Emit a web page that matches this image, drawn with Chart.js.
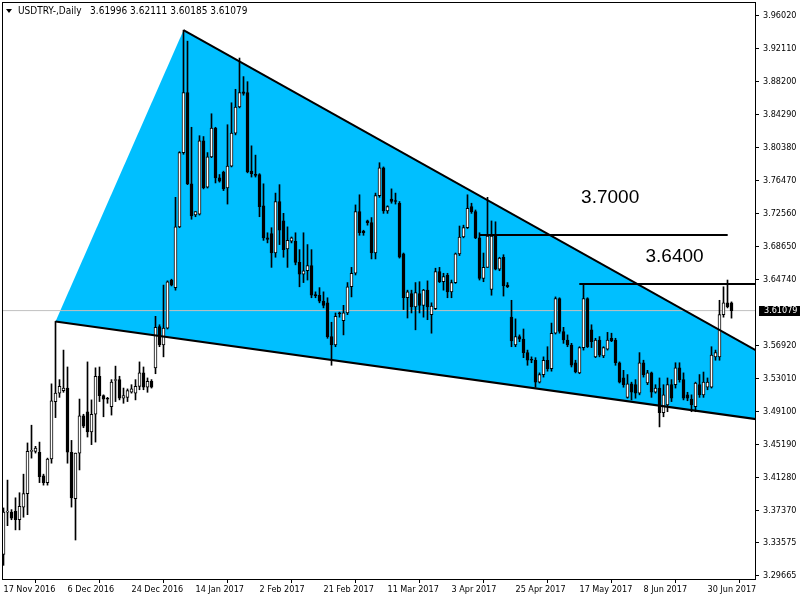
<!DOCTYPE html>
<html>
<head>
<meta charset="utf-8">
<title>USDTRY Daily</title>
<script src="https://cdn.jsdelivr.net/npm/chart.js@4.4.1/dist/chart.umd.min.js"></script>
<style>
  html, body { margin: 0; padding: 0; background: #fff; }
  #wrap { width: 800px; height: 600px; }
</style>
</head>
<body>
<div id="wrap"><canvas id="grafico" width="800" height="600"></canvas></div>
<script>
// ===== DATOS =====
const simbolo = 'USDTRY-,Daily';

// velas diarias (una por sesión, índice 0 = 17 Nov 2016)
const aperturas = [
  3.322, 3.372, 3.372, 3.373, 3.363, 3.378, 3.394, 3.444, 3.444, 3.443,
  3.415, 3.407, 3.435, 3.503, 3.513, 3.516, 3.519, 3.443, 3.388, 3.442,
  3.486, 3.491, 3.467, 3.488, 3.533, 3.510, 3.5065, 3.497, 3.528, 3.529,
  3.507, 3.508, 3.514, 3.513, 3.521, 3.537, 3.520, 3.527, 3.543, 3.592,
  3.570, 3.590, 3.647, 3.638, 3.710, 3.798, 3.869, 3.761, 3.724, 3.725,
  3.812, 3.757, 3.793, 3.827, 3.768, 3.775, 3.756, 3.782, 3.821, 3.852,
  3.870, 3.869, 3.776, 3.772, 3.772, 3.735, 3.697, 3.702, 3.679, 3.740,
  3.717, 3.684, 3.693, 3.693, 3.668, 3.654, 3.658, 3.664, 3.629, 3.629,
  3.622, 3.620, 3.580, 3.570, 3.6075, 3.599, 3.608, 3.639, 3.655, 3.728,
  3.705, 3.717, 3.715, 3.679, 3.747, 3.780, 3.729, 3.743, 3.741, 3.738,
  3.678, 3.626, 3.631, 3.615, 3.631, 3.617, 3.635, 3.606, 3.613, 3.657,
  3.645, 3.653, 3.633, 3.644, 3.678, 3.698, 3.709, 3.734, 3.728, 3.697,
  3.649, 3.662, 3.636, 3.699, 3.660, 3.674, 3.641, 3.603, 3.570, 3.580,
  3.577, 3.561, 3.5525, 3.552, 3.526, 3.535, 3.552, 3.542, 3.584, 3.625,
  3.586, 3.576, 3.570, 3.549, 3.537, 3.567, 3.625, 3.588, 3.556, 3.576,
  3.557, 3.565, 3.578, 3.576, 3.549, 3.531, 3.508, 3.524, 3.523, 3.513,
  3.549, 3.525, 3.537, 3.514, 3.519, 3.490, 3.499, 3.523, 3.523, 3.543,
  3.529, 3.511, 3.506, 3.497, 3.523, 3.511, 3.520, 3.520, 3.556, 3.556,
  3.606, 3.620, 3.61996
];
const maximos = [
  3.377, 3.410, 3.375, 3.389, 3.395, 3.417, 3.454, 3.475, 3.450, 3.455,
  3.417, 3.436, 3.524, 3.598, 3.529, 3.564, 3.544, 3.457, 3.442, 3.506,
  3.488, 3.550, 3.505, 3.543, 3.544, 3.511, 3.508, 3.529, 3.545, 3.533,
  3.519, 3.518, 3.523, 3.529, 3.550, 3.544, 3.531, 3.529, 3.604, 3.594,
  3.641, 3.646, 3.648, 3.745, 3.799, 3.943, 3.930, 3.828, 3.728, 3.818,
  3.817, 3.798, 3.844, 3.828, 3.772, 3.776, 3.831, 3.857, 3.873, 3.910,
  3.888, 3.882, 3.806, 3.795, 3.773, 3.761, 3.703, 3.709, 3.750, 3.760,
  3.726, 3.710, 3.698, 3.703, 3.683, 3.703, 3.689, 3.683, 3.633, 3.638,
  3.633, 3.626, 3.597, 3.608, 3.609, 3.617, 3.644, 3.662, 3.736, 3.748,
  3.706, 3.718, 3.721, 3.750, 3.786, 3.781, 3.735, 3.755, 3.750, 3.740,
  3.679, 3.635, 3.635, 3.644, 3.645, 3.636, 3.646, 3.620, 3.661, 3.662,
  3.655, 3.655, 3.647, 3.679, 3.711, 3.712, 3.748, 3.738, 3.730, 3.703,
  3.679, 3.745, 3.717, 3.716, 3.674, 3.677, 3.644, 3.623, 3.601, 3.582,
  3.589, 3.564, 3.556, 3.555, 3.537, 3.556, 3.568, 3.596, 3.627, 3.626,
  3.591, 3.582, 3.572, 3.552, 3.568, 3.642, 3.626, 3.594, 3.578, 3.580,
  3.568, 3.585, 3.584, 3.578, 3.550, 3.540, 3.535, 3.526, 3.529, 3.561,
  3.552, 3.540, 3.538, 3.523, 3.531, 3.523, 3.531, 3.529, 3.549, 3.549,
  3.537, 3.514, 3.511, 3.526, 3.535, 3.538, 3.531, 3.568, 3.564, 3.623,
  3.639, 3.647, 3.62111
];
const minimos = [
  3.309, 3.356, 3.363, 3.351, 3.351, 3.366, 3.369, 3.436, 3.442, 3.407,
  3.404, 3.404, 3.430, 3.484, 3.508, 3.514, 3.430, 3.378, 3.339, 3.422,
  3.472, 3.461, 3.452, 3.455, 3.503, 3.485, 3.501, 3.487, 3.503, 3.505,
  3.501, 3.503, 3.513, 3.505, 3.517, 3.517, 3.514, 3.519, 3.536, 3.568,
  3.556, 3.589, 3.640, 3.635, 3.709, 3.796, 3.760, 3.719, 3.722, 3.724,
  3.755, 3.756, 3.792, 3.762, 3.763, 3.753, 3.737, 3.781, 3.819, 3.851,
  3.866, 3.774, 3.769, 3.769, 3.722, 3.694, 3.691, 3.662, 3.674, 3.689,
  3.674, 3.662, 3.691, 3.665, 3.639, 3.644, 3.647, 3.626, 3.626, 3.620,
  3.614, 3.578, 3.546, 3.568, 3.603, 3.582, 3.606, 3.627, 3.653, 3.700,
  3.700, 3.712, 3.672, 3.672, 3.745, 3.726, 3.726, 3.738, 3.737, 3.673,
  3.612, 3.602, 3.608, 3.588, 3.608, 3.603, 3.600, 3.584, 3.612, 3.644,
  3.635, 3.626, 3.626, 3.643, 3.676, 3.697, 3.708, 3.726, 3.696, 3.647,
  3.645, 3.662, 3.629, 3.659, 3.658, 3.628, 3.638, 3.568, 3.568, 3.574,
  3.555, 3.546, 3.549, 3.520, 3.525, 3.532, 3.539, 3.539, 3.583, 3.584,
  3.572, 3.568, 3.544, 3.537, 3.536, 3.564, 3.567, 3.567, 3.555, 3.556,
  3.555, 3.564, 3.574, 3.546, 3.525, 3.520, 3.507, 3.505, 3.507, 3.511,
  3.532, 3.523, 3.508, 3.513, 3.473, 3.485, 3.491, 3.503, 3.519, 3.526,
  3.505, 3.504, 3.491, 3.491, 3.508, 3.508, 3.517, 3.519, 3.552, 3.552,
  3.603, 3.614, 3.60185
];
const cierres = [
  3.372, 3.373, 3.365, 3.363, 3.379, 3.394, 3.444, 3.445, 3.448, 3.414,
  3.407, 3.435, 3.504, 3.513, 3.521, 3.519, 3.443, 3.389, 3.442, 3.486,
  3.474, 3.467, 3.488, 3.533, 3.510, 3.506, 3.5058, 3.526, 3.529, 3.507,
  3.510, 3.516, 3.518, 3.521, 3.537, 3.520, 3.527, 3.520, 3.591, 3.570,
  3.590, 3.645, 3.641, 3.710, 3.798, 3.869, 3.761, 3.723, 3.728, 3.812,
  3.756, 3.793, 3.827, 3.768, 3.764, 3.755, 3.782, 3.821, 3.852, 3.869,
  3.868, 3.775, 3.773, 3.771, 3.734, 3.697, 3.695, 3.679, 3.740, 3.706,
  3.683, 3.694, 3.697, 3.668, 3.654, 3.658, 3.664, 3.629, 3.6285, 3.622,
  3.617, 3.580, 3.570, 3.604, 3.607, 3.608, 3.639, 3.655, 3.728, 3.703,
  3.703, 3.715, 3.679, 3.747, 3.780, 3.729, 3.734, 3.740, 3.740, 3.674,
  3.626, 3.633, 3.615, 3.632, 3.617, 3.635, 3.615, 3.616, 3.657, 3.645,
  3.651, 3.633, 3.644, 3.678, 3.698, 3.709, 3.732, 3.728, 3.697, 3.649,
  3.662, 3.699, 3.699, 3.660, 3.673, 3.640, 3.639, 3.575, 3.580, 3.577,
  3.561, 3.552, 3.552, 3.526, 3.535, 3.552, 3.542, 3.584, 3.625, 3.586,
  3.576, 3.570, 3.546, 3.538, 3.567, 3.625, 3.568, 3.574, 3.576, 3.558,
  3.567, 3.576, 3.575, 3.549, 3.526, 3.523, 3.524, 3.514, 3.513, 3.549,
  3.535, 3.537, 3.514, 3.519, 3.490, 3.511, 3.523, 3.507, 3.543, 3.529,
  3.507, 3.507, 3.499, 3.525, 3.511, 3.526, 3.526, 3.558, 3.561, 3.606,
  3.620, 3.615, 3.61079
];

// etiquetas del eje de tiempo (cada 16 velas)
const fechasIndices = [0, 16, 32, 48, 64, 80, 96, 112, 128, 144, 160, 176];
const fechasEtiquetas = ['17 Nov 2016', '6 Dec 2016', '24 Dec 2016', '14 Jan 2017', '2 Feb 2017',
  '21 Feb 2017', '11 Mar 2017', '3 Apr 2017', '25 Apr 2017', '17 May 2017', '8 Jun 2017', '30 Jun 2017'];

// etiquetas del eje de precios
const preciosEje = [3.96020, 3.92110, 3.88200, 3.84290, 3.80380, 3.76470, 3.72560, 3.68650,
  3.64740, 3.56920, 3.53010, 3.49100, 3.45190, 3.41280, 3.37370, 3.33575, 3.29665];

// objetos dibujados: [índice de vela, precio]
const trianguloPuntos = [[13, 3.598], [45, 3.943], [229, 3.4552]];
const nivelSuperior = [[119.1, 3.7004], [181.05, 3.7004]];
const nivelInferior = [[143.95, 3.6423], [200, 3.6423]];
const notas = [['3.7000', 144.4, 3.7386], ['3.6400', 160.5, 3.6687]];

// ===== PREPARAR DATASETS =====
const ultimo = cierres.length - 1;
const puntos = arr => arr.map(p => ({ x: p[0], y: p[1] }));

const mechas = minimos.map((lo, i) => ({ x: i, y: [lo, maximos[i]] }));
const cuerpos = aperturas.map((o, i) => ({ x: i, y: [o, cierres[i]] }));
const coloresCuerpo = aperturas.map((o, i) => cierres[i] >= o ? '#ffffff' : '#000000');

const triangulo = puntos(trianguloPuntos.concat([trianguloPuntos[0]]));
const lineaArriba = puntos([trianguloPuntos[1], trianguloPuntos[2]]);
const lineaAbajo = puntos([trianguloPuntos[0], trianguloPuntos[2]]);
const lineaBid = [{ x: -5, y: cierres[ultimo] }, { x: 200, y: cierres[ultimo] }];

const fuenteEje = { family: '"DejaVu Sans Condensed", "Liberation Sans", sans-serif', size: 9 };

function lineaNegra(data) {
  return {
    type: 'line', data, borderColor: '#000', borderWidth: 2,
    pointRadius: 0, fill: false, tension: 0, order: 1
  };
}

// sin relleno extra alrededor de los ejes
function sinPadding(s) {
  s.paddingTop = 0;
  s.paddingBottom = 0;
  s.paddingLeft = 0;
  s.paddingRight = 0;
}

// ===== PLUGIN: marco, título, etiqueta de precio y textos =====
const extras = {
  id: 'extras',
  afterDraw(chart) {
    const { ctx, chartArea: a, scales } = chart;
    ctx.save();

    // marco del gráfico
    ctx.strokeStyle = '#000';
    ctx.lineWidth = 1;
    ctx.strokeRect(a.left + 0.5, a.top + 0.5, a.right - a.left - 1, a.bottom - a.top);

    // textos 3.7000 / 3.6400
    ctx.fillStyle = '#000';
    ctx.font = '19px "Liberation Sans", Arial, sans-serif';
    ctx.textBaseline = 'alphabetic';
    ctx.textAlign = 'left';
    notas.forEach(n => {
      ctx.fillText(n[0], scales.x.getPixelForValue(n[1]), scales.y.getPixelForValue(n[2]));
    });

    // título
    ctx.font = '10px ' + fuenteEje.family;
    ctx.textBaseline = 'middle';
    const ohlc = [aperturas[ultimo], maximos[ultimo], minimos[ultimo], cierres[ultimo]].map(v => v.toFixed(5)).join(' ');
    ctx.fillText(simbolo + '   ' + ohlc, 18, 11);
    ctx.beginPath();
    ctx.moveTo(6, 9);
    ctx.lineTo(12, 9);
    ctx.lineTo(9, 13);
    ctx.closePath();
    ctx.fill();

    // etiqueta del precio actual
    const yp = Math.round(scales.y.getPixelForValue(cierres[ultimo]));
    ctx.font = '9px ' + fuenteEje.family;
    ctx.fillRect(a.right + 3, yp - 5, chart.width - a.right - 3, 10);
    ctx.fillStyle = '#fff';
    ctx.fillText(cierres[ultimo].toFixed(5), a.right + 8, yp);
    ctx.restore();
  }
};

// ===== GRÁFICO =====
const ctx = document.getElementById('grafico').getContext('2d');
const chart = new Chart(ctx, {
  type: 'bar',
  data: {
    datasets: [
      {
        type: 'line', data: triangulo, fill: 'shape', backgroundColor: '#00bfff',
        borderWidth: 0, borderColor: 'rgba(0,0,0,0)', pointRadius: 0, tension: 0, order: 10
      },
      {
        type: 'line', data: lineaBid, borderColor: '#c0c0c0', borderWidth: 1,
        pointRadius: 0, fill: false, order: 9
      },
      {
        data: mechas, backgroundColor: '#000', borderWidth: 0,
        barThickness: 1, grouped: false, order: 6
      },
      {
        data: cuerpos, backgroundColor: coloresCuerpo, borderColor: '#000', borderWidth: 1,
        borderSkipped: false, barThickness: 3, minBarLength: 1, grouped: false, order: 5
      },
      lineaNegra(lineaArriba),
      lineaNegra(lineaAbajo),
      lineaNegra(puntos(nivelSuperior)),
      lineaNegra(puntos(nivelInferior))
    ]
  },
  options: {
    responsive: false,
    animation: false,
    layout: { padding: { top: 2, left: 2, right: 0, bottom: 0 } },
    plugins: { legend: { display: false }, tooltip: { enabled: false }, title: { display: false } },
    scales: {
      x: {
        type: 'linear', min: -0.375, max: 188.125, offset: false,
        afterBuildTicks: s => { s.ticks = fechasIndices.map(v => ({ value: v })); },
        afterFit: s => { s.height = 21; sinPadding(s); },
        ticks: {
          autoSkip: false, maxRotation: 0, minRotation: 0, align: 'start', padding: 1,
          color: '#000', font: fuenteEje,
          callback: v => fechasEtiquetas[fechasIndices.indexOf(v)]
        },
        grid: { drawOnChartArea: false, drawTicks: true, tickLength: 4, color: '#000' },
        border: { display: false }
      },
      y: {
        type: 'linear', position: 'right', min: 3.2928, max: 3.9764,
        afterBuildTicks: s => { s.ticks = preciosEje.map(v => ({ value: v })); },
        afterFit: s => { s.width = 44; sinPadding(s); },
        ticks: { padding: 4, color: '#000', font: fuenteEje, callback: v => v.toFixed(5) },
        grid: { drawOnChartArea: false, drawTicks: true, tickLength: 3, color: '#000' },
        border: { display: false }
      }
    }
  },
  plugins: [extras]
});
</script>
</body>
</html>
